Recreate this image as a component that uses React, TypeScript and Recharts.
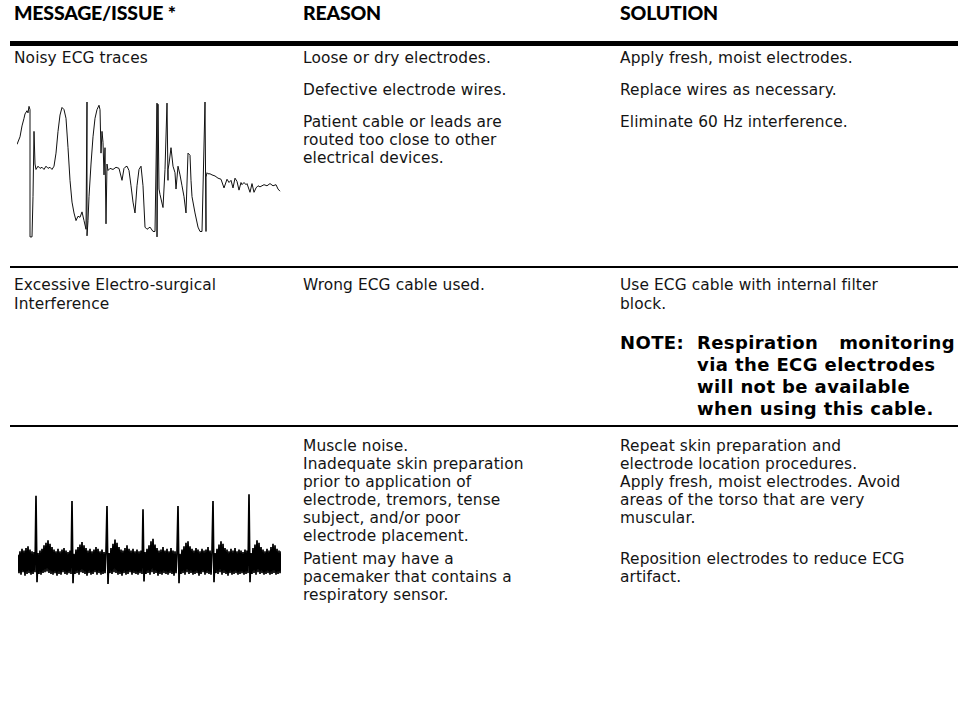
import { LineChart, Line, XAxis, YAxis } from "recharts";

// noisy ECG trace: sample position (px along strip) and amplitude (arbitrary units, baseline 0)
const noisyTime = [
  0, 3, 5, 7, 8, 10, 11, 12, 13, 13, 15, 16, 17, 18, 19, 21, 23, 25, 27, 29, 31, 33, 35, 37, 39, 41, 43, 45, 47, 49,
  51, 53, 55, 57, 59, 61, 63, 65, 67, 69, 70, 70, 71, 72, 74, 76, 78, 80, 82, 83, 84, 85, 86, 87, 88, 89, 90, 91, 93, 96,
  99, 102, 105, 107, 108, 110, 112, 114, 116, 118, 120, 122, 124, 126, 128, 130, 133, 136, 138, 140, 140, 141, 142, 143, 146,
  148, 150, 151, 151, 152, 154, 156, 158, 159, 161, 163, 165, 167, 169, 171, 173, 174, 175, 178, 181, 183, 185, 188, 189, 189,
  190, 191, 193, 195, 198, 201, 204, 207, 210, 212, 214, 216, 218, 220, 222, 224, 225, 227, 229, 230, 233, 235, 237, 239, 241,
  243, 245, 247, 250, 253, 256, 259, 261, 263, 266,
];
const noisyMv = [
  23, 30, 40, 47, 51, 54, 52, 58, 55, -62, -62, -25, 35, 5, 0, 3, 1, 2, 0, 3, 1, 2, 0, 3, 15, 35, 50, 57, 55, 47,
  20, -10, -30, -40, -47, -43, -44, -39, -47, -55, 62, -61, -47, -25, 5, 30, 47, 55, 59, 55, 15, 35, 25, -5, 20, -50, 5, -1,
  1, 0, 2, 1, -10, 1, 2, 3, -1, -15, -30, -40, -15, 0, 3, -15, -53, -55, -53, -57, -57, 61, -62, 60, -18, -23, -35,
  0, 61, -10, 0, 5, 20, 3, -3, -18, 3, -5, -15, -25, -40, 15, 13, -10, -25, -40, -53, -57, -57, 62, -57, -7,
  -3, -4, -4, -5, -6, -8, -9, -17, -9, -12, -10, -17, -8, -11, -19, -12, -14, -12, -14, -13, -21, -13, -21, -17, -15,
  -16, -15, -14, -15, -13, -15, -14, -18, -20,
];

// muscle noise trace: one sample per px, spikes are the QRS complexes
const muscleMv = [
  8, -14, 12, -16, 15, -13, 13, -17, 16, -15, 18, -14, 14, -16, 12, -15, 11, -13,
  78, -25, 10, -15, 13, -16, 15, -14, 19, -13, 22, -12, 25, -14, 21, -15, 17, -16, 14, -14, 12, -17, 15, -15, 12, -16, 14, -13, 16, -15, 13, -16, 11, -14, 13, -15,
  72, -26, 9, -15, 14, -14, 17, -16, 20, -13, 23, -14, 19, -15, 16, -17, 13, -14, 15, -16, 12, -15, 14, -13, 17, -16, 15, -14, 12, -16, 14, -15, 11, -14, 12,
  66, -27, 10, -14, 16, -15, 21, -13, 26, -14, 22, -16, 17, -15, 14, -17, 13, -14, 16, -16, 19, -15, 15, -13, 13, -16, 15, -14, 12, -15, 14, -16, 12, -14, 13, -15,
  62, -24, 11, -15, 15, -14, 19, -16, 24, -13, 27, -15, 20, -14, 16, -17, 13, -15, 14, -16, 17, -14, 13, -15, 15, -16, 12, -14, 16, -15, 13, -17, 12, -14, 11,
  66, -26, 9, -15, 14, -14, 18, -16, 22, -13, 24, -15, 18, -14, 15, -16, 13, -15, 16, -14, 14, -17, 12, -15, 15, -13, 13, -16, 14, -14, 17, -15, 13, -16, 12,
  72, -25, 10, -14, 15, -15, 20, -13, 24, -16, 21, -14, 16, -15, 14, -17, 12, -14, 15, -16, 13, -15, 16, -14, 12, -16, 14, -15, 13, -14, 11, -16, 14, -15, 13, -14,
  80, -25, 10, -15, 16, -14, 20, -16, 25, -13, 22, -15, 17, -14, 14, -16, 12, -15, 15, -14, 13, -16, 17, -15, 21, -14, 19, -16, 15, -15, 13, -14, 12,
];

const headers = ["MESSAGE/ISSUE *", "REASON", "SOLUTION"];
const noteLines = ["via the ECG electrodes", "will not be available", "when using this cable."];

const noisyData = noisyTime.map((t, i) => ({ t, v: noisyMv[i] }));
const muscleData = muscleMv.map((v, t) => ({ t, v }));

const ink = "#141414";
const body: React.CSSProperties = { fontFamily: "'DejaVu Sans', sans-serif", fontSize: 15.4, letterSpacing: 0.1, color: ink };

function Lines({ x, y, lines, lh = 18, style = {} }: { x: number; y: number; lines: string[]; lh?: number; style?: React.CSSProperties }) {
  return (
    <div style={{ position: "absolute", left: x, top: y, lineHeight: `${lh}px`, whiteSpace: "nowrap", ...body, ...style }}>
      {lines.map((l, i) => (
        <div key={i}>{l}</div>
      ))}
    </div>
  );
}

function Trace({ data, x, y, w, h, xMax, yDomain, sw = 1, color = "#111" }: { data: { t: number; v: number }[]; x: number; y: number; w: number; h: number; xMax: number; yDomain: [number, number]; sw?: number; color?: string }) {
  return (
    <div style={{ position: "absolute", left: x, top: y }}>
      <LineChart width={w} height={h} data={data} margin={{ top: 0, right: 0, bottom: 0, left: 0 }}>
        <XAxis type="number" dataKey="t" domain={[0, xMax]} hide />
        <YAxis type="number" domain={yDomain} hide />
        <Line type="linear" dataKey="v" stroke={color} strokeWidth={sw} dot={false} isAnimationActive={false} />
      </LineChart>
    </div>
  );
}

function Rule({ y, h }: { y: number; h: number }) {
  return <div style={{ position: "absolute", left: 10, top: y, width: 948, height: h, background: "#000" }} />;
}

export default function App() {
  const headStyle: React.CSSProperties = { fontFamily: "Lato, sans-serif", fontWeight: 900, fontSize: 19.5, letterSpacing: -0.2, color: "#000" };
  const bold: React.CSSProperties = { fontWeight: 700, fontSize: 18, letterSpacing: 0.4, color: "#000" };
  return (
    <div style={{ position: "absolute", left: 0, top: 0, width: 958, height: 723, background: "#fff", overflow: "hidden" }}>
      <Lines x={14} y={2} lines={[headers[0]]} lh={22} style={headStyle} />
      <Lines x={303} y={2} lines={[headers[1]]} lh={22} style={headStyle} />
      <Lines x={620} y={2} lines={[headers[2]]} lh={22} style={headStyle} />
      <Rule y={41} h={5} />

      <Lines x={14} y={49} lines={["Noisy ECG traces"]} />
      <Lines x={303} y={49} lines={["Loose or dry electrodes."]} />
      <Lines x={303} y={81} lines={["Defective electrode wires."]} />
      <Lines x={303} y={113} lines={["Patient cable or leads are", "routed too close to other", "electrical devices."]} />
      <Lines x={620} y={49} lines={["Apply fresh, moist electrodes."]} />
      <Lines x={620} y={81} lines={["Replace wires as necessary."]} />
      <Lines x={620} y={113} lines={["Eliminate 60 Hz interference."]} />
      <Trace data={noisyData} x={17} y={102} w={266} h={136} xMax={266} yDomain={[-63, 62]} />

      <Rule y={266} h={2} />
      <Lines x={14} y={276} lines={["Excessive Electro-surgical", "Interference"]} lh={19} />
      <Lines x={303} y={276} lines={["Wrong ECG cable used."]} lh={19} />
      <Lines x={620} y={276} lines={["Use ECG cable with internal filter", "block."]} lh={19} />
      <Lines x={620} y={332} lines={["NOTE:"]} lh={22} style={bold} />
      <div style={{ position: "absolute", left: 697, top: 332, width: 258, display: "flex", justifyContent: "space-between", lineHeight: "22px", whiteSpace: "nowrap", ...body, ...bold }}>
        <span>Respiration</span>
        <span>monitoring</span>
      </div>
      <Lines x={697} y={354} lines={noteLines} lh={22} style={bold} />

      <Rule y={425} h={2} />
      <Lines x={303} y={437} lines={["Muscle noise.", "Inadequate skin preparation", "prior to application of", "electrode, tremors, tense", "subject, and/or poor", "electrode placement."]} />
      <Lines x={620} y={437} lines={["Repeat skin preparation and", "electrode location procedures.", "Apply fresh, moist electrodes. Avoid", "areas of the torso that are very", "muscular."]} />
      <Lines x={303} y={550} lines={["Patient may have a", "pacemaker that contains a", "respiratory sensor."]} />
      <Lines x={620} y={550} lines={["Reposition electrodes to reduce ECG", "artifact."]} />
      <Trace data={muscleData} x={18} y={490} w={263} h={94} xMax={263} yDomain={[-27, 85]} sw={1.7} color="#000" />
    </div>
  );
}
